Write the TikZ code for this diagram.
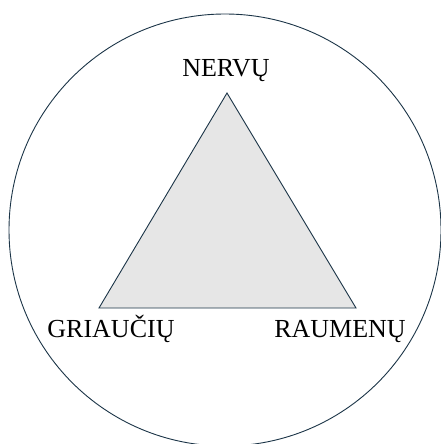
\documentclass[tikz,border=0pt]{standalone}
\usepackage{fontspec}
\setmainfont{Liberation Serif}
\usepackage{tikz}
\usetikzlibrary{calc,positioning}
\definecolor{rimblue}{HTML}{1B3447}
\definecolor{trifill}{HTML}{E6E6E6}
\tikzset{
  label text/.style={font=\fontsize{26}{30}\selectfont, anchor=base, inner sep=0pt, text=black},
}
\begin{document}
\begin{tikzpicture}[x=1pt,y=-1pt]
            \useasboundingbox (0,0) rectangle (440,444);
            % Define points
            \coordinate (O) at (225, 230);
            \coordinate (N) at (227, 93);
            \coordinate (G) at (99, 308);
            \coordinate (R) at (356, 308);
            % Outer circle
            \draw[rimblue, line width=0.9pt] (O) circle (216);
            % Triangle
            \draw[rimblue, fill=trifill, line width=0.9pt] (N) -- (G) -- (R) -- cycle;
            % Label the corners
            \node[label text] (nervu) at (226, 76) {NERVŲ};
            \node[label text] (griauciu) at (111, 337) {GRIAUČIŲ};
            \node[label text] (raumenu) at (340, 337) {RAUMENŲ};
          \end{tikzpicture}
\end{document}
